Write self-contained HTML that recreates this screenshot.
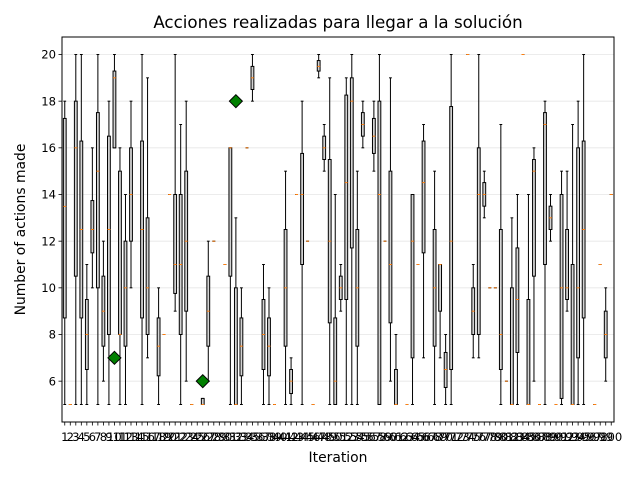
<!DOCTYPE html>
<html><head><meta charset="utf-8"><style>
html,body{margin:0;padding:0;background:#fff;}
svg{display:block;font-family:"DejaVu Sans","Liberation Sans",sans-serif;}
</style></head><body>
<svg id="chart" width="640" height="480" viewBox="0 0 640 480" xmlns="http://www.w3.org/2000/svg">
<text x="338" y="28" font-size="16.7" text-anchor="middle">Acciones realizadas para llegar a la solución</text>
<text x="338" y="462" font-size="13.9" text-anchor="middle">Iteration</text>
<text x="25" y="229.5" font-size="13.9" text-anchor="middle" transform="rotate(-90 25 229.5)">Number of actions made</text>
<g id="grid"></g>
<g id="boxes"></g>
<g id="yaxis"></g>
<g id="xaxis"></g>
<rect x="62" y="37" width="552" height="385" fill="none" stroke="#000" stroke-width="1"/>
</svg>
<script>
const N = null;
const wlo = [5,5,5,5,5,10,5,6,5,16,5,5,10,N,5,7,N,5,8,14,9,5,6,5,N,5,6,12,N,11,5,5,5,16,18,N,5,5,5,N,5,5,14,5,12,5,19,15,5,5,9,5,5,5,16,N,15,5,12,6,5,N,5,5,11,7,N,5,7,5,5,N,N,20,7,7,13,10,10,5,6,5,5,20,5,6,5,5,12,5,5,9,5,5,5,N,5,11,6,14];
const q1 = [8.71,5,10.5,8.71,6.5,11.5,10,7.5,8,16,8,7.5,12,N,8.71,8,N,6.23,8,14,9.76,8,9,5,N,5,7.5,12,N,11,10.5,5,6.23,16,18.5,N,6.5,6.23,5,N,7.5,5.47,14,11,12,5,19.29,15.5,8.5,5,9.5,9.5,11.71,7.5,16.5,N,15.76,5,12,8.5,5,N,5,7,11,11.5,N,7.5,9,5.73,6.5,N,N,20,8,8,13.5,10,10,6.5,6,5,7.23,20,5,10.5,5,11,12.5,5,5.26,9.5,5,7,8.71,N,5,11,7,14];
const med = [13.49,5,16,12.5,8,12.5,15,9,12.5,19,8,10,14,N,12.5,10,N,7.5,8,14,11,11,12,5,N,5,9,12,N,11,16,5,7.5,16,19,N,8,7.5,5,N,10,6,14,14,12,5,19.49,16,12,6,10,14.51,18,10,17,N,16.5,14,12,11,5,N,5,12,11,14.51,N,10,11,6.5,12,N,N,20,9,14,14,10,10,8,6,5,9.5,20,5,15,5,17,13,5,10,10,5,10,12.5,N,5,11,8,14];
const q3 = [17.26,5,18,16.29,9.5,13.74,17.51,10.5,16.5,19.29,15,12,16,N,16.29,13,N,8.71,8,14,14,14,15,5,N,5.26,10.5,12,N,11,16,10,8.71,16,19.49,N,9.5,8.71,5,N,12.5,6.5,14,15.76,12,5,19.74,16.5,15.5,8.71,10.5,18.26,19,12.5,17.51,N,17.26,18,12,15,6.5,N,5,14,11,16.29,N,12.5,11,7.23,17.77,N,N,20,10,16,14.51,10,10,12.5,6,10,11.71,20,9.5,15.5,5,17.51,13.5,5,14,12.5,11,16,16.29,N,5,11,9,14];
const whi = [18,5,20,20,11,16,20,12,18,20,16,14,18,N,20,19,N,10,8,14,20,17,18,5,N,5.26,12,12,N,11,16,13,10,16,20,N,11,10,5,N,15,7,14,18,12,5,20,17,19,14,11,19,20,15,18,N,18,20,12,19,8,N,5,14,11,17,N,15,11,8,20,N,N,20,11,20,15,10,10,17,6,13,14,20,14,16,5,18,14,5,15,15,17,18,20,N,5,11,10,14];
const flierIter = [10,26,32];
const flierVal = [7,6,18];
const yTicks = [6,8,10,12,14,16,18,20];

const NS = "http://www.w3.org/2000/svg";
const X0 = 62, X1 = 614, Y0 = 37, Y1 = 422;
const xmin = 0.5, xmax = 100.5, ymin = 4.25, ymax = 20.75;
function xs(i){ return X0 + (i - xmin) / (xmax - xmin) * (X1 - X0); }
function ys(v){ return Y1 - (v - ymin) / (ymax - ymin) * (Y1 - Y0); }
function mk(tag, attrs, parent){
  const e = document.createElementNS(NS, tag);
  for (const k in attrs) e.setAttribute(k, attrs[k]);
  parent.appendChild(e);
  return e;
}
const grid = document.getElementById('grid');
const yaxis = document.getElementById('yaxis');
const xaxis = document.getElementById('xaxis');
const boxes = document.getElementById('boxes');

yTicks.forEach(t => {
  const y = ys(t);
  const gl = mk('line', {x1:X0, x2:X1, y1:y, y2:y, stroke:'#e6e6e6', 'stroke-width':0.8}, grid);
  
  
  const tk = mk('line', {x1:X0-3.5, x2:X0, y1:y, y2:y, stroke:'#000', 'stroke-width':0.8}, yaxis);
  
  
  const tx = mk('text', {x:X0-6, y:y+4.2, 'font-size':11.6, 'text-anchor':'end'}, yaxis);
  tx.textContent = t;
  
  
});

for (let i = 1; i <= 100; i++) {
  const x = xs(i);
  const tk = mk('line', {x1:x, x2:x, y1:Y1, y2:Y1+3.5, stroke:'#000', 'stroke-width':0.8}, xaxis);
  
  
  const tx = mk('text', {x:x, y:Y1+19, 'font-size':11.6, 'text-anchor':'middle'}, xaxis);
  tx.textContent = i;
  
  

  const k = i - 1;
  if (q1[k] === null) continue;
  const g = mk('g', {}, boxes);
  
  
  const hw = 1.4, cw = 1.4;
  const st = {stroke:'#000', 'stroke-width':1, fill:'none'};
  mk('line', Object.assign({x1:x, x2:x, y1:ys(q1[k]), y2:ys(wlo[k])}, st), g);
  mk('line', Object.assign({x1:x, x2:x, y1:ys(q3[k]), y2:ys(whi[k])}, st), g);
  mk('line', Object.assign({x1:x-cw, x2:x+cw, y1:ys(wlo[k]), y2:ys(wlo[k])}, st), g);
  mk('line', Object.assign({x1:x-cw, x2:x+cw, y1:ys(whi[k]), y2:ys(whi[k])}, st), g);
  mk('rect', {x:x-hw, y:ys(q3[k]), width:2*hw, height:Math.max(0, ys(q1[k])-ys(q3[k])), fill:'#d3d3d3', stroke:'#000', 'stroke-width':1}, g);
  mk('line', {x1:x-hw, x2:x+hw, y1:ys(med[k]), y2:ys(med[k]), stroke:'#ff7f0e', 'stroke-width':1}, g);
}

flierIter.forEach((it, j) => {
  const x = xs(it), y = ys(flierVal[j]), r = 6.5;
  const p = mk('polygon', {points:`${x},${y-r} ${x+r},${y} ${x},${y+r} ${x-r},${y}`, fill:'#008000', stroke:'#000', 'stroke-width':1}, boxes);
  
  
});
</script>
</body></html>
